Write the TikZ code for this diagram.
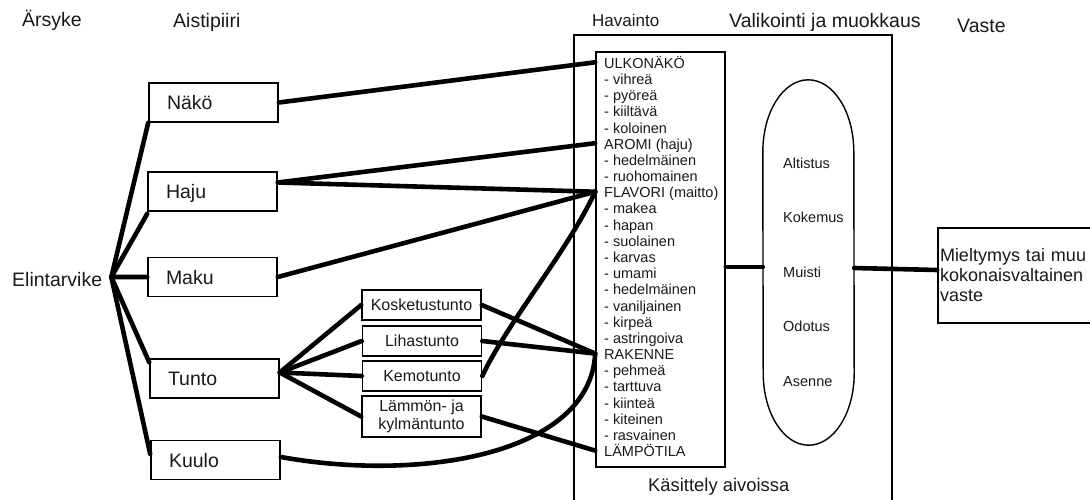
\documentclass[tikz,border=0pt]{standalone}
\usepackage{fontspec}
\setmainfont{Liberation Sans}
\begin{document}
\begin{tikzpicture}[x=1pt,y=-1pt,
  every node/.style={text=black!90},
  conn/.style={line width=4.6pt, line cap=round, draw=black},
  frame/.style={draw=black, line width=1.6pt},
  sense/.style={frame, minimum width=129pt, minimum height=39pt, text width=93pt, inner xsep=18pt, inner ysep=0pt, align=left, font=\fontsize{19.5}{23}\selectfont, text height=14pt, text depth=0pt},
  subbox/.style={frame, minimum width=119pt, minimum height=30pt, inner sep=0pt, align=center, font=\fontsize{16}{18.5}\selectfont},
  oneline/.style={text height=11.5pt, text depth=0pt},
  title/.style={anchor=base west, inner sep=0pt, font=\fontsize{19.5}{23}\selectfont},
  item/.style={anchor=base west, inner sep=0pt, font=\fontsize{14.5}{16}\selectfont, text height=12pt, text depth=0pt},
  factor/.style={anchor=base west, inner sep=0pt, font=\fontsize{14.5}{16}\selectfont}
]
\useasboundingbox (0,0) rectangle (1090,499);
\clip (0,0) rectangle (1090,499);

% titles
\node[title] (tars) at (22,26.7) {Ärsyke};
\node[title] (tais) at (173,27.3) {Aistipiiri};
\node[title, font=\fontsize{17}{20}\selectfont] (thav) at (592,26.7) {Havainto};
\node[title] (tval) at (729,27.7) {Valikointi ja muokkaus};
\node[title] (tvas) at (957,32.3) {Vaste};
\node[title, font=\fontsize{18.4}{22}\selectfont] (tkas) at (648,491) {Käsittely aivoissa};

% brain frame
\node[frame, line width=1.4pt, minimum width=318pt, minimum height=480pt, inner sep=0pt] (brain) at (733,275) {};

% stimulus
\node[title] (elin) at (12,286) {Elintarvike};
\coordinate (hub) at ([xshift=9pt,yshift=2pt]elin.east);

% senses
\node[sense] (nako) at (213.5,102.5) {Näkö};
\node[sense] (haju) at (212.5,191.5) {Haju};
\node[sense] (maku) at (212.5,277) {Maku};
\node[sense] (tunto) at (214.5,378.5) {Tunto};
\node[sense] (kuulo) at (215.5,460) {Kuulo};

% touch sub-senses
\node[subbox, oneline] (kosk) at (421.5,305) {Kosketustunto};
\node[subbox, oneline] (lihas) at (422,341) {Lihastunto};
\node[subbox, oneline] (kemo) at (422,376) {Kemotunto};
\node[subbox, minimum height=41pt] (lammo) at (421.5,416.5) {Lämmön- ja\\kylmäntunto};

% perception list
\node[frame, minimum width=129pt, minimum height=415pt, inner sep=0pt] (list) at (660.5,259.5) {};
\foreach \t [count=\i] in {ULKONÄKÖ, - vihreä, - pyöreä, - kiiltävä, - koloinen, AROMI (haju), - hedelmäinen, - ruohomainen, FLAVORI (maitto), - makea, - hapan, - suolainen, - karvas, - umami, - hedelmäinen, - vaniljainen, - kirpeä, - astringoiva, RAKENNE, - pehmeä, - tarttuva, - kiinteä, - kiteinen, - rasvainen, LÄMPÖTILA}
  \node[item] (l\i) at (604,{68.3+16.18*(\i-1)}) {\t};

% selection stadium
\node[minimum width=91pt, minimum height=365pt, inner sep=0pt] (valik) at (808.5,262.5) {};
\draw[line width=1.4pt] ([yshift=-72pt]valik.north west)
  arc[start angle=180, end angle=0, x radius=45.5pt, y radius=72pt]
  -- ([yshift=72pt]valik.south east)
  arc[start angle=0, end angle=-180, x radius=45.5pt, y radius=72pt] -- cycle;
\node[factor] (f1) at (783,168.3) {Altistus};
\node[factor] (f2) at (783,222.7) {Kokemus};
\node[factor] (f3) at (783,277.3) {Muisti};
\node[factor] (f4) at (783,331.7) {Odotus};
\node[factor] (f5) at (783,386.7) {Asenne};

% response
\node[frame, minimum width=158pt, minimum height=95pt, text width=154pt, inner xsep=2pt, inner ysep=0pt, align=left, font=\fontsize{18}{20}\selectfont] (resp) at (1017,275.5) {Mieltymys tai muu\\kokonaisvaltainen\\vaste};

% connectors: stimulus -> senses
\draw[conn] (hub) -- (nako.south west);
\draw[conn] (hub) -- ([yshift=-2pt]haju.south west);
\draw[conn] (hub) -- (maku.west);
\draw[conn] (hub) -- ([yshift=-4pt]tunto.north west);
\draw[conn] (hub) -- ([yshift=6pt]kuulo.west);

% senses -> perception
\draw[conn] (nako.east) -- (l1.west -| list.west);
\draw[conn] ([yshift=9pt]haju.east) -- (l6.west -| list.west);
\draw[conn] ([yshift=9pt]haju.east) -- (l9.west -| list.west);
\draw[conn] (maku.east) -- (l9.west -| list.west);
\draw[conn] ([yshift=3pt]kuulo.east) .. controls (420,482) and (590,455) .. (l19.west -| list.west);

% touch
\draw[conn] ([yshift=6pt]tunto.east) -- (kosk.west);
\draw[conn] ([yshift=6pt]tunto.east) -- (lihas.west);
\draw[conn] ([yshift=6pt]tunto.east) -- (kemo.west);
\draw[conn] ([yshift=6pt]tunto.east) -- (lammo.west);
\draw[conn] (kosk.east) -- (l19.west -| list.west);
\draw[conn] (lihas.east) -- (l19.west -| list.west);
\draw[conn] (kemo.east) .. controls (507,323) and (567,252) .. (l9.west -| list.west);
\draw[conn] (lammo.east) -- (l25.west -| list.west);

% perception -> selection -> response
\draw[conn] ([yshift=-7.5pt]list.east) -- ([yshift=-4.5pt]valik.west);
\draw[conn] ([yshift=-5.5pt]valik.east) -- ([yshift=5.5pt]resp.west);
\end{tikzpicture}
\end{document}
